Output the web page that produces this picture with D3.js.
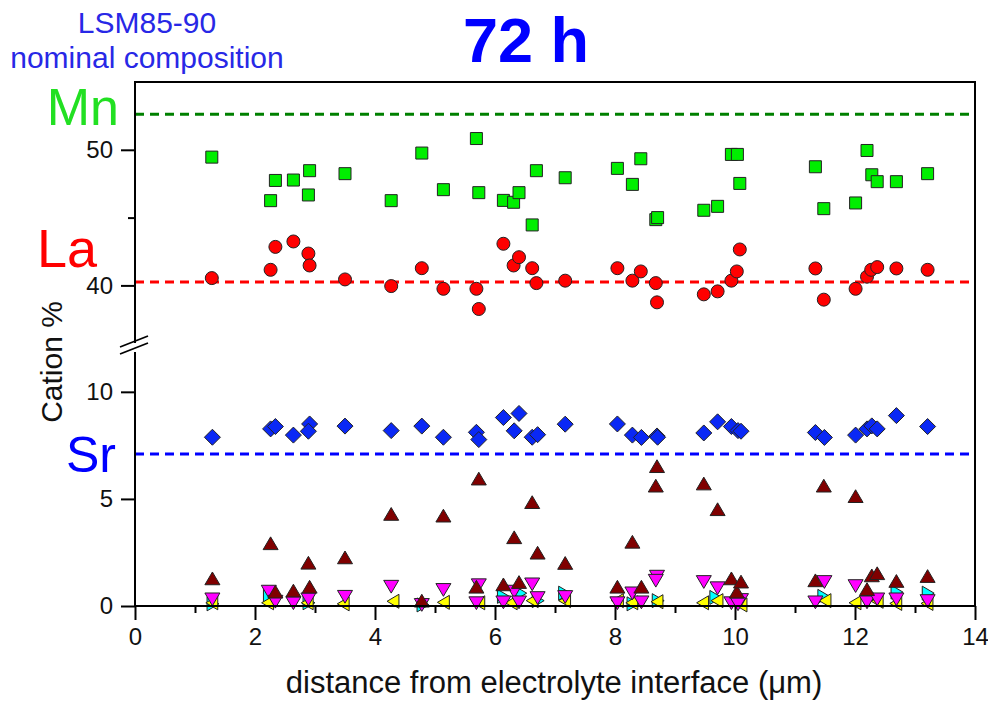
<!DOCTYPE html>
<html>
<head>
<meta charset="utf-8">
<script src="https://cdn.jsdelivr.net/npm/d3@7"></script>
<style>
  body { margin: 0; background: #fff; }
  svg { display: block; font-family: "Liberation Sans", Arial, sans-serif; }
</style>
</head>
<body>
<div id="chart"></div>
<script>
// cation % vs distance
const xTicks = [0, 2, 4, 6, 8, 10, 12, 14];
const xMinor = [1, 3, 5, 7, 9, 11, 13];
const yUpTicks = [40, 50];
const yUpMinor = [45];
const yLowTicks = [0, 5, 10];

// nominal composition lines
const nominal = [
  { name: 'Mn', value: 52.63, seg: 'up', color: '#008000' },
  { name: 'La', value: 40.26, seg: 'up', color: '#ff0000' },
  { name: 'Sr', value: 7.1, seg: 'low', color: '#0000ff' }
];

const mnPts = [[1.28,49.46],[2.26,46.25],[2.34,47.74],[2.64,47.77],[2.91,48.46],[2.89,46.67],[3.5,48.24],[4.27,46.25],[4.78,49.76],[5.14,47.06],[5.69,50.83],[5.73,46.84],[6.14,46.27],[6.31,46.13],[6.4,46.84],[6.62,44.46],[6.69,48.46],[7.17,47.94],[8.04,48.63],[8.29,47.45],[8.43,49.34],[8.68,44.85],[8.71,45.0],[9.48,45.54],[9.71,45.83],[9.94,49.66],[10.04,49.66],[10.08,47.52],[11.34,48.75],[11.48,45.66],[12.01,46.08],[12.2,49.95],[12.28,48.16],[12.37,47.65],[12.69,47.65],[13.21,48.24]];

const laPts = [[1.28,40.54],[2.26,41.15],[2.34,42.84],[2.64,43.24],[2.89,42.35],[2.91,41.47],[3.5,40.44],[4.27,39.95],[4.78,41.27],[5.14,39.75],[5.69,39.75],[5.73,38.26],[6.14,43.07],[6.31,41.47],[6.4,42.08],[6.62,41.27],[6.69,40.17],[7.17,40.35],[8.04,41.27],[8.29,40.35],[8.43,41.03],[8.68,40.17],[8.7,38.75],[9.48,39.34],[9.71,39.56],[9.94,40.35],[10.03,41.03],[10.08,42.65],[11.34,41.25],[11.48,38.95],[12.01,39.75],[12.2,40.64],[12.27,41.15],[12.37,41.35],[12.69,41.25],[13.21,41.15]];

const srPts = [[1.29,7.88],[2.26,8.27],[2.34,8.38],[2.64,7.98],[2.91,8.5],[2.89,8.16],[3.5,8.4],[4.27,8.19],[4.78,8.4],[5.14,7.88],[5.69,8.11],[5.73,7.77],[6.14,8.8],[6.4,8.99],[6.32,8.18],[6.62,7.88],[6.71,8.0],[7.17,8.49],[8.04,8.5],[8.29,7.98],[8.44,7.87],[8.7,7.94],[8.71,7.88],[9.48,8.08],[9.71,8.6],[9.94,8.38],[10.05,8.19],[10.1,8.16],[11.34,8.1],[11.49,7.87],[12.01,7.98],[12.2,8.27],[12.28,8.41],[12.37,8.27],[12.69,8.89],[13.21,8.38]];

const darkRedPts = [[1.29,1.29],[2.26,2.93],[2.34,0.67],[2.64,0.72],[2.89,2.02],[2.91,0.9],[3.5,2.27],[4.27,4.3],[4.78,0.25],[5.14,4.22],[5.73,5.95],[5.69,0.9],[6.14,1.01],[6.32,3.21],[6.4,1.12],[6.62,4.85],[6.71,2.49],[7.17,2.01],[8.04,0.9],[8.29,3.0],[8.44,0.9],[8.7,6.53],[8.68,5.62],[9.48,5.72],[9.71,4.52],[9.94,1.29],[10.03,0.67],[10.1,1.14],[11.34,1.2],[11.48,5.62],[12.01,5.13],[12.2,0.79],[12.28,1.43],[12.37,1.53],[12.69,1.17],[13.21,1.4]];

const magentaPts = [[1.29,0.31],[2.23,0.67],[2.34,0.2],[2.64,0.13],[2.89,0.31],[3.5,0.43],[4.27,0.9],[4.78,0.05],[5.14,0.75],[5.73,0.97],[5.69,0.13],[6.14,0.17],[6.32,0.67],[6.4,0.17],[6.62,1.01],[6.71,0.37],[7.17,0.42],[8.04,0.13],[8.29,0.59],[8.44,0.17],[8.7,1.37],[8.68,1.18],[9.48,1.12],[9.71,0.83],[9.94,0.13],[10.1,0.28],[10.05,0.08],[11.34,0.17],[11.49,1.12],[12.01,0.93],[12.2,0.17],[12.37,0.31],[12.69,0.31],[13.21,0.23]];

const yellowPts = [[1.28,0.15],[2.21,0.15],[2.87,0.15],[3.47,0.1],[4.3,0.22],[5.14,0.17],[5.73,0.15],[6.27,0.15],[6.62,0.25],[7.16,0.25],[8.04,0.25],[8.28,0.15],[8.7,0.2],[9.46,0.15],[9.7,0.25],[10.1,0.05],[11.5,0.25],[12.0,0.15],[12.37,0.22],[12.68,0.12],[13.2,0.12]];

const cyanPts = [[1.3,0.1],[2.24,0.5],[2.9,0.15],[4.8,0.05],[6.14,0.45],[6.43,0.6],[6.72,0.25],[7.16,0.6],[8.3,0.1],[8.72,0.25],[9.68,0.4],[11.48,0.45],[12.3,0.45],[12.7,0.65],[13.22,0.6]];

// layout
const W = 988, H = 705;
const plot = { left: 135, right: 975, top: 82, bottom: 606, breakTop: 341, breakBottom: 349 };

const svg = d3.select('#chart').append('svg').attr('width', W).attr('height', H);

const x = d3.scaleLinear().domain([0, 14]).range([plot.left, plot.right]);
const yUp = d3.scaleLinear().domain([35.9, 55]).range([plot.breakTop, plot.top]);
const yLow = d3.scaleLinear().domain([0, 12]).range([plot.bottom, plot.breakBottom]);

// custom marker shapes (size = half width)
const tri = (dir) => ({
  draw(ctx, s) {
    const h = s * 0.85;
    if (dir === 'up') { ctx.moveTo(0, -h); ctx.lineTo(s, h); ctx.lineTo(-s, h); }
    if (dir === 'down') { ctx.moveTo(0, h); ctx.lineTo(s, -h); ctx.lineTo(-s, -h); }
    if (dir === 'left') { ctx.moveTo(-h, 0); ctx.lineTo(h, -s); ctx.lineTo(h, s); }
    if (dir === 'right') { ctx.moveTo(h, 0); ctx.lineTo(-h, -s); ctx.lineTo(-h, s); }
    ctx.closePath();
  }
});
const square = { draw(ctx, s) { ctx.rect(-s, -s, 2 * s, 2 * s); } };
const circle = { draw(ctx, s) { ctx.moveTo(s, 0); ctx.arc(0, 0, s, 0, 2 * Math.PI); } };
const diamond = { draw(ctx, s) { ctx.moveTo(0, -s); ctx.lineTo(s, 0); ctx.lineTo(0, s); ctx.lineTo(-s, 0); ctx.closePath(); } };

const series = [
  { pts: cyanPts, seg: 'low', type: tri('right'), size: 7, fill: '#00ffff' },
  { pts: yellowPts, seg: 'low', type: tri('left'), size: 7, fill: '#ffff00' },
  { pts: magentaPts, seg: 'low', type: tri('down'), size: 7.5, fill: '#ff00ff' },
  { pts: darkRedPts, seg: 'low', type: tri('up'), size: 7.5, fill: '#800000' },
  { pts: srPts, seg: 'low', type: diamond, size: 8, fill: '#0a28f5' },
  { pts: laPts, seg: 'up', type: circle, size: 6.5, fill: '#ff0000' },
  { pts: mnPts, seg: 'up', type: square, size: 6, fill: '#00ee00' }
];

// nominal composition dashed lines
svg.selectAll('line.nominal')
  .data(nominal)
  .join('line')
  .attr('class', 'nominal')
  .attr('x1', plot.left)
  .attr('x2', plot.right)
  .attr('y1', (d) => (d.seg === 'up' ? yUp(d.value) : yLow(d.value)))
  .attr('y2', (d) => (d.seg === 'up' ? yUp(d.value) : yLow(d.value)))
  .attr('stroke', (d) => d.color)
  .attr('stroke-width', 3)
  .attr('stroke-dasharray', '9,6');

// markers
series.forEach((s) => {
  const ys = s.seg === 'up' ? yUp : yLow;
  const gen = d3.symbol().type(s.type).size(s.size);
  svg.append('g')
    .selectAll('path')
    .data(s.pts)
    .join('path')
    .attr('d', gen)
    .attr('transform', (d) => `translate(${x(d[0])},${ys(d[1])})`)
    .attr('fill', s.fill)
    .attr('stroke', '#222')
    .attr('stroke-width', 1);
});

// axes
const styleAxis = (g, fs) => {
  g.select('.domain').remove();
  g.selectAll('.tick line').attr('stroke', '#000').attr('stroke-width', 2);
  g.selectAll('.tick text').attr('font-size', fs).attr('fill', '#111');
};

svg.append('g')
  .attr('transform', `translate(0,${plot.bottom})`)
  .call(d3.axisBottom(x).tickValues(xTicks).tickSize(14).tickPadding(8).tickFormat(d3.format('d')))
  .call((g) => styleAxis(g, 24))
  .call((g) => g.attr('font-family', null));
svg.append('g')
  .attr('transform', `translate(0,${plot.bottom})`)
  .call(d3.axisBottom(x).tickValues(xMinor).tickSize(7).tickFormat(''))
  .call((g) => styleAxis(g, 24));

svg.append('g')
  .attr('transform', `translate(${plot.left},0)`)
  .call(d3.axisLeft(yUp).tickValues(yUpTicks).tickSize(14).tickPadding(8))
  .call((g) => styleAxis(g, 24))
  .call((g) => g.attr('font-family', null));
svg.append('g')
  .attr('transform', `translate(${plot.left},0)`)
  .call(d3.axisLeft(yUp).tickValues(yUpMinor).tickSize(7).tickFormat(''))
  .call((g) => styleAxis(g, 24));
svg.append('g')
  .attr('transform', `translate(${plot.left},0)`)
  .call(d3.axisLeft(yLow).tickValues(yLowTicks).tickSize(14).tickPadding(8))
  .call((g) => styleAxis(g, 24))
  .call((g) => g.attr('font-family', null));

// frame with a break in the left axis
const frame = svg.append('g').attr('stroke', '#000').attr('stroke-width', 2).attr('fill', 'none');
frame.append('path').attr('d', `M${plot.left},${plot.breakTop + 2}V${plot.top}H${plot.right}V${plot.bottom}H${plot.left}V${plot.breakBottom + 3}`);
frame.append('line').attr('x1', plot.left - 15).attr('y1', plot.breakTop + 6).attr('x2', plot.left + 13).attr('y2', plot.breakTop - 5).attr('stroke-width', 1.8);
frame.append('line').attr('x1', plot.left - 15).attr('y1', plot.breakBottom + 5).attr('x2', plot.left + 13).attr('y2', plot.breakBottom - 6).attr('stroke-width', 1.8);

// axis titles
svg.append('text')
  .attr('x', 554).attr('y', 693)
  .attr('text-anchor', 'middle')
  .attr('font-size', 31)
  .attr('fill', '#111')
  .text('distance from electrolyte interface (μm)');

svg.append('text')
  .attr('transform', 'translate(62,362) rotate(-90)')
  .attr('text-anchor', 'middle')
  .attr('font-size', 30)
  .attr('fill', '#111')
  .text('Cation %');

// titles and element labels
svg.append('text')
  .attr('x', 526).attr('y', 62)
  .attr('text-anchor', 'middle')
  .attr('font-size', 63)
  .attr('font-weight', 'bold')
  .attr('fill', '#0000ff')
  .text('72 h');

svg.append('text')
  .attr('x', 147).attr('y', 33)
  .attr('text-anchor', 'middle')
  .attr('font-size', 30)
  .attr('fill', '#2828e6')
  .text('LSM85-90');
svg.append('text')
  .attr('x', 147).attr('y', 68)
  .attr('text-anchor', 'middle')
  .attr('font-size', 30)
  .attr('fill', '#2828e6')
  .text('nominal composition');

svg.append('text').attr('x', 119).attr('y', 125).attr('text-anchor', 'end')
  .attr('font-size', 52).attr('fill', '#22e022').text('Mn');
svg.append('text').attr('x', 37).attr('y', 267)
  .attr('font-size', 54).attr('fill', '#ff0000').text('La');
svg.append('text').attr('x', 66).attr('y', 472)
  .attr('font-size', 50).attr('fill', '#0000ff').text('Sr');
</script>
</body>
</html>
